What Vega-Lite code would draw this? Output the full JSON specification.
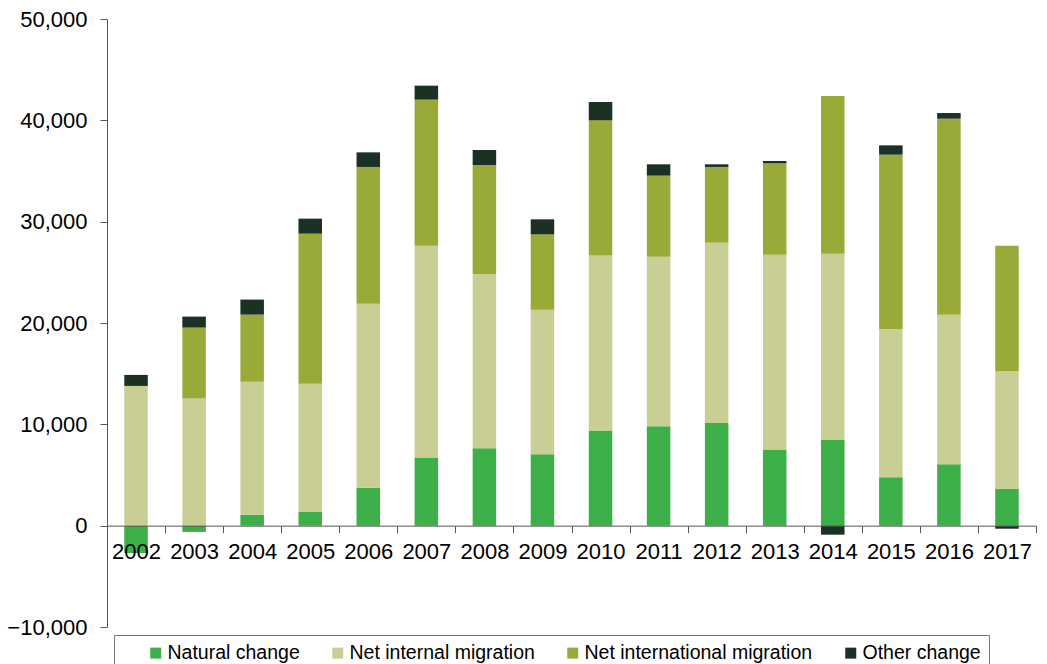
{
  "$schema": "https://vega.github.io/schema/vega-lite/v6.json",
  "width": 929,
  "height": 608,
  "autosize": {"type": "none"},
  "padding": {"left": 107, "top": 19, "right": 11, "bottom": 37},
  "background": "#ffffff",
  "config": {"view": {"stroke": null}, "font": "Liberation Sans"},
  "data": {
    "values": [
      {"year": "2002", "Natural change": -2700, "Net internal migration": 13790, "Net international migration": 0, "Other change": 1090},
      {"year": "2003", "Natural change": -620, "Net internal migration": 12540, "Net international migration": 7010, "Other change": 1080},
      {"year": "2004", "Natural change": 1090, "Net internal migration": 13120, "Net international migration": 6620, "Other change": 1480},
      {"year": "2005", "Natural change": 1350, "Net internal migration": 12660, "Net international migration": 14810, "Other change": 1480},
      {"year": "2006", "Natural change": 3750, "Net internal migration": 18160, "Net international migration": 13490, "Other change": 1440},
      {"year": "2007", "Natural change": 6720, "Net internal migration": 20910, "Net international migration": 14410, "Other change": 1380},
      {"year": "2008", "Natural change": 7640, "Net internal migration": 17200, "Net international migration": 10750, "Other change": 1480},
      {"year": "2009", "Natural change": 7050, "Net internal migration": 14260, "Net international migration": 7440, "Other change": 1480},
      {"year": "2010", "Natural change": 9390, "Net internal migration": 17280, "Net international migration": 13330, "Other change": 1810},
      {"year": "2011", "Natural change": 9800, "Net internal migration": 16740, "Net international migration": 8000, "Other change": 1120},
      {"year": "2012", "Natural change": 10130, "Net internal migration": 17800, "Net international migration": 7470, "Other change": 260},
      {"year": "2013", "Natural change": 7520, "Net internal migration": 19220, "Net international migration": 9020, "Other change": 230},
      {"year": "2014", "Natural change": 8500, "Net internal migration": 18340, "Net international migration": 15560, "Other change": -890},
      {"year": "2015", "Natural change": 4770, "Net internal migration": 14640, "Net international migration": 17200, "Other change": 920},
      {"year": "2016", "Natural change": 6050, "Net internal migration": 14770, "Net international migration": 19340, "Other change": 560},
      {"year": "2017", "Natural change": 3650, "Net internal migration": 11580, "Net international migration": 12400, "Other change": -300}
    ]
  },
  "transform": [
    {"fold": ["Natural change", "Net internal migration", "Net international migration", "Other change"], "as": ["component", "value"]}
  ],
  "mark": {"type": "bar", "width": {"band": 0.405}},
  "encoding": {
    "x": {
      "field": "year", "type": "ordinal",
      "scale": {"paddingInner": 0, "paddingOuter": 0},
      "axis": {
        "title": null, "offset": -101.33, "labelAngle": 0, "zindex": 1,
        "labelFontSize": 22, "labelColor": "#000000", "labelPadding": 9,
        "tickBand": "extent", "tickSize": 7, "tickColor": "#555555", "domainColor": "#555555",
        "tickWidth": 1, "domainWidth": 1
      }
    },
    "y": {
      "field": "value", "type": "quantitative", "stack": "zero",
      "scale": {"domain": [-10000, 50000], "nice": false, "zero": false},
      "axis": {
        "title": null, "values": [-10000, 0, 10000, 20000, 30000, 40000, 50000], "format": ",.0f",
        "grid": false, "labelFontSize": 22, "labelColor": "#000000", "labelPadding": 13,
        "tickSize": 7, "tickColor": "#555555", "domainColor": "#555555"
      }
    },
    "color": {
      "field": "component", "type": "nominal",
      "scale": {
        "domain": ["Natural change", "Net internal migration", "Net international migration", "Other change"],
        "range": ["#3daf48", "#c9ce95", "#9aaa39", "#1a3124"]
      },
      "legend": {
        "title": null, "orient": "none", "legendX": 7, "legendY": 616, "direction": "horizontal",
        "symbolType": "square", "symbolSize": 121, "symbolStrokeWidth": 0, "symbolOffset": 24,
        "labelFontSize": 19.5, "labelColor": "#000000", "labelOffset": 2, "labelLimit": 500,
        "columnPadding": 4, "padding": 8, "strokeColor": "#777777"
      }
    },
    "order": {"field": "component", "sort": "ascending"}
  }
}
